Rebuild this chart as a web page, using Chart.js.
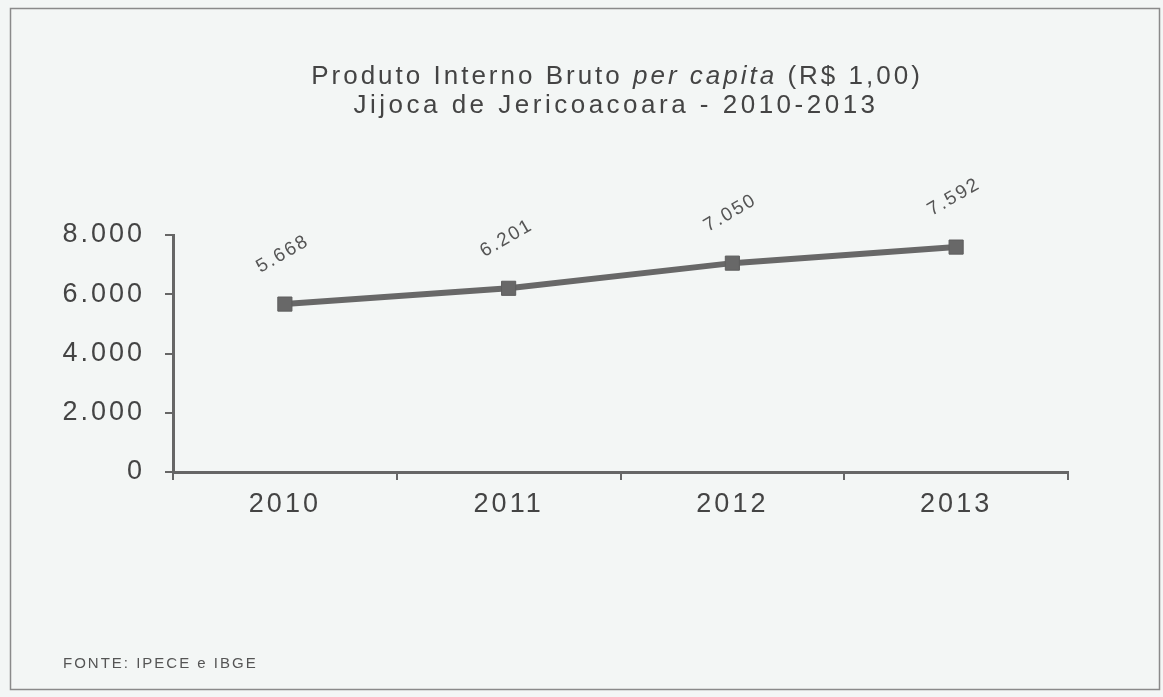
<!DOCTYPE html>
<html lang="pt">
<head>
<meta charset="UTF-8" />
<title>PIB per capita - Jijoca de Jericoacoara</title>
<style>
  html, body { margin: 0; padding: 0; background: #f3f6f5; }
  #wrap { position: relative; width: 1163px; height: 697px; }
</style>
</head>
<body>
<div id="wrap"><canvas id="chart" width="1163" height="697"></canvas></div>
<script src="https://cdn.jsdelivr.net/npm/chart.js"></script>
<script>
// dados
const anos = ["2010", "2011", "2012", "2013"];
const pibPerCapita = [5668, 6201, 7050, 7592];
const eixoY = { min: 0, max: 8000, passo: 2000 };

const tituloLinha1 = ["Produto Interno Bruto ", "per capita", " (R$ 1,00)"];
const tituloLinha2 = "Jijoca de Jericoacoara - 2010-2013";
const fonte = "FONTE: IPECE e IBGE";

const FAMILIA = "'Liberation Sans', Arial, sans-serif";
const CINZA = "#686868";

// separador de milhar com ponto
function fmt(n) {
  return String(n).replace(/\B(?=(\d{3})+(?!\d))/g, ".");
}

// fundo e espaçamento entre letras dos rótulos dos eixos
const espacoEixos = {
  id: "espacoEixos",
  beforeDraw(chart) {
    const ctx = chart.ctx;
    ctx.save();
    ctx.fillStyle = "#f3f6f5";
    ctx.fillRect(0, 0, chart.width, chart.height);
    ctx.restore();
    ctx.letterSpacing = "3px";
  },
  beforeDatasetsDraw(chart) {
    chart.ctx.letterSpacing = "0px";
  },
};

// rótulos de valor inclinados acima dos pontos
const rotulosValor = {
  id: "rotulosValor",
  afterDatasetsDraw(chart) {
    const ctx = chart.ctx;
    const meta = chart.getDatasetMeta(0);
    ctx.save();
    ctx.font = "19px " + FAMILIA;
    ctx.letterSpacing = "2px";
    ctx.fillStyle = "#555";
    ctx.textAlign = "center";
    ctx.textBaseline = "middle";
    meta.data.forEach((pt, i) => {
      ctx.save();
      ctx.translate(pt.x - 2, pt.y - 50);
      ctx.rotate(-30 * Math.PI / 180);
      ctx.fillText(fmt(pibPerCapita[i]), 0, 0);
      ctx.restore();
    });
    ctx.restore();
  },
};

// título, fonte e moldura
const moldura = {
  id: "moldura",
  afterDraw(chart) {
    const ctx = chart.ctx;
    ctx.save();
    ctx.fillStyle = "#444";
    ctx.textBaseline = "alphabetic";
    ctx.letterSpacing = "3px";

    const normal = "26px " + FAMILIA;
    const italico = "italic 26px " + FAMILIA;
    const fontes = [normal, italico, normal];
    let total = 0;
    const larguras = tituloLinha1.map((t, i) => {
      ctx.font = fontes[i];
      const w = ctx.measureText(t).width;
      total += w;
      return w;
    });
    let x = 617 - total / 2;
    ctx.textAlign = "left";
    tituloLinha1.forEach((t, i) => {
      ctx.font = fontes[i];
      ctx.fillText(t, x, 84);
      x += larguras[i];
    });

    ctx.font = normal;
    ctx.letterSpacing = "3.5px";
    ctx.textAlign = "center";
    ctx.fillText(tituloLinha2, 616, 113);

    ctx.font = "15px " + FAMILIA;
    ctx.letterSpacing = "2px";
    ctx.textAlign = "left";
    ctx.fillStyle = "#555";
    ctx.fillText(fonte, 63, 668);

    ctx.letterSpacing = "0px";
    ctx.strokeStyle = "#8a8a8a";
    ctx.lineWidth = 1.5;
    ctx.strokeRect(10.5, 8.5, 1149, 681);
    ctx.restore();
  },
};

new Chart(document.getElementById("chart"), {
  type: "line",
  data: {
    labels: anos,
    datasets: [
      {
        data: pibPerCapita,
        borderColor: CINZA,
        borderWidth: 6,
        pointStyle: "rect",
        pointRadius: 10,
        pointHoverRadius: 10,
        pointBackgroundColor: CINZA,
        pointBorderColor: "#5e5e5e",
        pointBorderWidth: 1,
        tension: 0,
        clip: false,
      },
    ],
  },
  options: {
    responsive: false,
    animation: false,
    layout: { padding: { top: 235, left: 0, right: 95, bottom: 160 } },
    plugins: {
      legend: { display: false },
      tooltip: { enabled: false },
    },
    scales: {
      x: {
        offset: true,
        grid: {
          display: true,
          drawOnChartArea: false,
          offset: true,
          tickLength: 8,
          color: "#666",
          lineWidth: 2,
        },
        border: { color: "#666", width: 3 },
        ticks: {
          color: "#444",
          font: { family: FAMILIA, size: 27 },
          padding: 8,
          maxRotation: 0,
        },
        afterFit: (s) => { s.height = 65; },
      },
      y: {
        min: eixoY.min,
        max: eixoY.max,
        grid: {
          display: true,
          drawOnChartArea: false,
          tickLength: 8,
          color: "#666",
          lineWidth: 2,
        },
        border: { color: "#666", width: 3 },
        ticks: {
          stepSize: eixoY.passo,
          color: "#444",
          font: { family: FAMILIA, size: 27 },
          padding: 20,
          callback: (v) => fmt(v),
        },
        afterFit: (s) => { s.width = 173; },
      },
    },
  },
  plugins: [espacoEixos, rotulosValor, moldura],
});
</script>
</body>
</html>
